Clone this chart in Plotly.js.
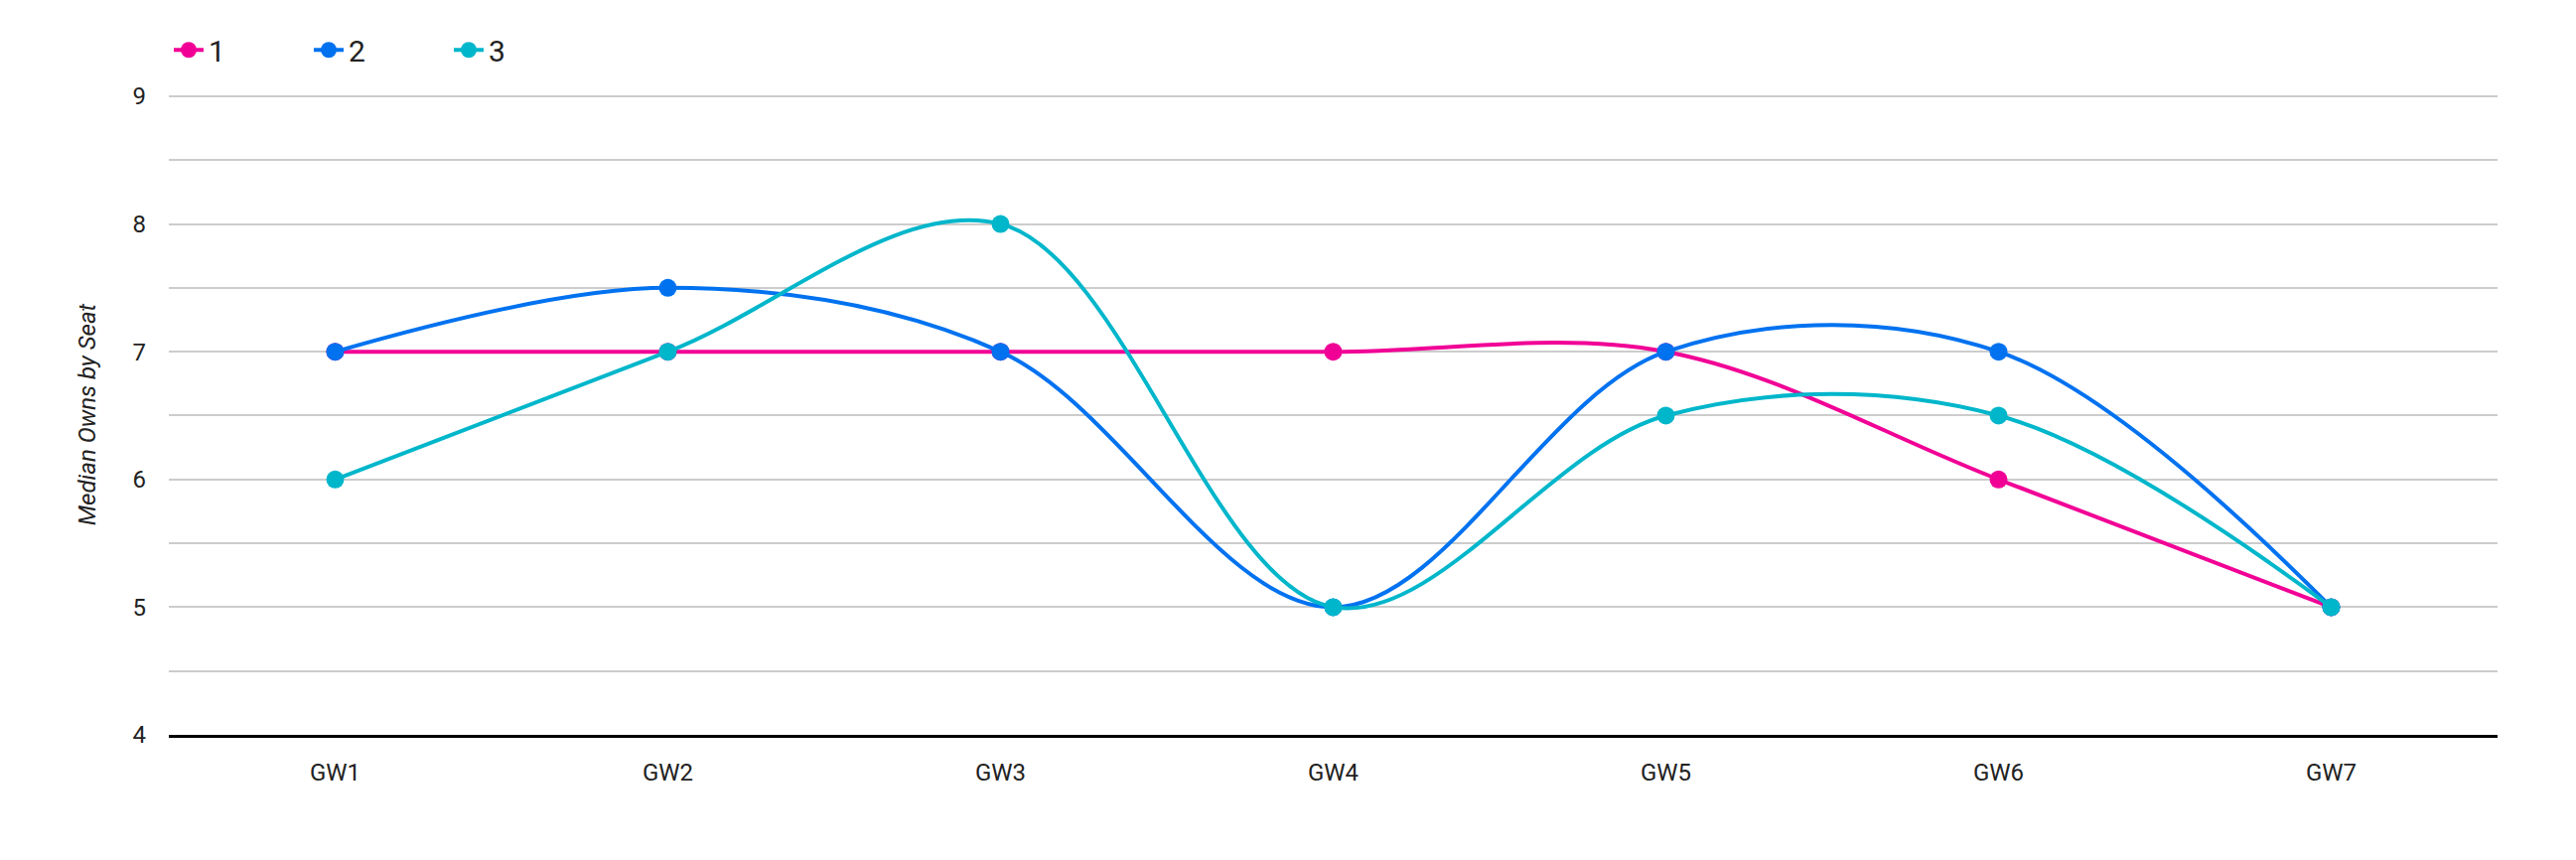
<!DOCTYPE html>
<html>
<head>
<meta charset="utf-8">
<script src="https://cdn.plot.ly/plotly-3.0.1.min.js"></script>
<style>
  html, body { margin: 0; padding: 0; background: #fff; }
  #chart { width: 2594px; height: 866px; }
</style>
</head>
<body>
<div id="chart"></div>
<script>
const categories = ["GW1", "GW2", "GW3", "GW4", "GW5", "GW6", "GW7"];
const seriesNames = ["1", "2", "3"];
const series1 = [7, 7, 7, 7, 7, 6, 5];
const series2 = [7, 7.5, 7, 5, 7, 7, 5];
const series3 = [6, 7, 8, 5, 6.5, 6.5, 5];
const yTickVals = [4, 5, 6, 7, 8, 9];
const colors = ["#f10096", "#0072f0", "#00b6cb"];

const allSeries = [series1, series2, series3];
const traces = allSeries.map((vals, i) => ({
  x: categories,
  y: vals,
  name: seriesNames[i],
  type: "scatter",
  mode: "lines+markers",
  line: { color: colors[i], width: 4, shape: "spline", smoothing: 1 },
  marker: { color: colors[i], size: 18 }
}));

const layout = {
  width: 2594,
  height: 866,
  margin: { l: 170, r: 79, t: 95, b: 126 },
  paper_bgcolor: "#ffffff",
  plot_bgcolor: "#ffffff",
  font: { family: "Roboto, sans-serif", size: 24, color: "#222222" },
  showlegend: true,
  legend: {
    orientation: "h",
    x: 0,
    xanchor: "left",
    y: 0.972,
    yref: "container",
    yanchor: "top",
    font: { size: 30, color: "#222222" },
    entrywidth: 96,
    entrywidthmode: "pixels",
    tracegroupgap: 0
  },
  xaxis: {
    type: "category",
    range: [-0.5, 6.5],
    showgrid: false,
    showline: true,
    linecolor: "#000000",
    linewidth: 3,
    ticks: "",
    ticklabelstandoff: 14,
    tickfont: { size: 24, color: "#222222" },
    zeroline: false,
    fixedrange: true
  },
  yaxis: {
    range: [4, 9.015],
    tickvals: yTickVals,
    ticktext: yTickVals.map(String),
    showgrid: true,
    gridcolor: "#cccccc",
    gridwidth: 2,
    minor: { dtick: 0.5, showgrid: true, gridcolor: "#cccccc", gridwidth: 2 },
    showline: false,
    zeroline: false,
    ticks: "",
    ticklabelstandoff: 22,
    tickfont: { size: 24, color: "#222222" },
    title: {
      text: "<i>Median Owns by Seat</i>",
      font: { size: 24, color: "#222222" },
      standoff: 30
    },
    automargin: false,
    fixedrange: true
  }
};

Plotly.newPlot("chart", traces, layout, { displayModeBar: false, staticPlot: true });
</script>
</body>
</html>
